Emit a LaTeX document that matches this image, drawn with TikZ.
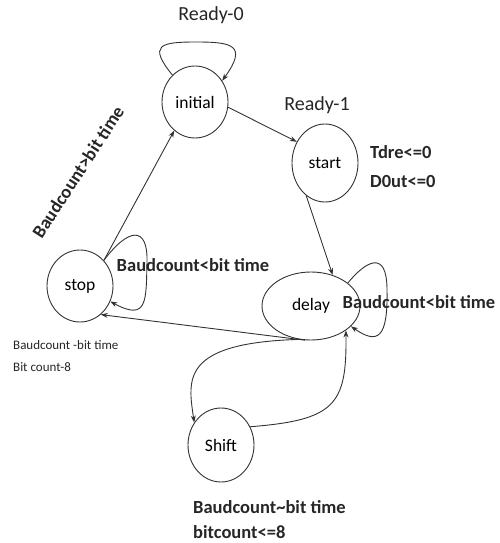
\documentclass[tikz,border=0pt]{standalone}
\usepackage{fontspec}
\setmainfont{Carlito}
\usetikzlibrary{shapes.geometric,arrows.meta}
\begin{document}
\begin{tikzpicture}[x=1pt,y=-1pt,
  state/.style={ellipse,draw=black!80,line width=0.9pt,inner sep=0pt,font=\fontsize{17.5}{17.5}\selectfont},
  edge/.style={draw=black!80,line width=0.9pt,-{Stealth[length=7pt,width=5pt]}},
  lbl/.style={font=\fontsize{20}{20}\selectfont,inner sep=0pt,text=black!85},
  slbl/.style={font=\fontsize{13}{13}\selectfont,inner sep=0pt,text=black!85,anchor=west},
  blbl/.style={font=\bfseries\fontsize{18.5}{24}\selectfont,inner sep=0pt,text=black!85}]
\useasboundingbox (0,0) rectangle (499,543);

% states
\node[state,minimum width=66pt,minimum height=72pt] (initial) at (195,102) {initial};
\node[state,minimum width=66pt,minimum height=78pt] (start) at (325,163) {start};
\node[state,minimum width=66pt,minimum height=72pt] (stop) at (80,286) {stop};
\node[state,minimum width=98pt,minimum height=68pt] (delay) at (311,306) {delay};
\node[state,minimum width=66pt,minimum height=74pt] (shift) at (221,445) {Shift};

% transitions
\draw[edge] (initial.130) .. controls (148,45) and (160,42) .. (196,42)
            .. controls (232,42) and (248,45) .. (initial.38);
\draw[edge] (initial.-9) -- (start.143);
\draw[edge] (start.240) -- (delay.55);
\draw[edge] (stop.47) -- (initial.234);
\draw[edge] (stop.47) .. controls (128,228) and (148,225) .. (147,262)
            .. controls (146,300) and (148,322) .. (stop.-27);
\draw[edge] (delay.32) .. controls (365,262) and (387,248) .. (387,290)
            .. controls (388,338) and (378,345) .. (delay.-27);
\draw[edge] (delay.-100) -- (stop.-54);
\draw[edge] (delay.-110) .. controls (180,343) and (188,380) .. (shift.140);
\draw[edge] (shift.32) .. controls (335,420) and (347,405) .. (delay.-35);

% labels
\node[lbl] (r0) at (211,15) {Ready-0};
\node[lbl] (r1) at (317,105) {Ready-1};
\node[blbl,anchor=west] (tdre) at (370,152) {Tdre<=0};
\node[blbl,anchor=west] (dout) at (370,181) {D0ut<=0};
\node[blbl,rotate=57] (bgt) at (78,172) {Baudcount>bit time};
\node[blbl] (blt1) at (193,265) {Baudcount<bit time};
\node[blbl] (blt2) at (419,302) {Baudcount<bit time};
\node[slbl] (beq) at (13,345) {Baudcount -bit time};
\node[slbl] (bc8) at (13,367) {Bit count-8};
\node[blbl,anchor=west] (bshift) at (193,507) {Baudcount\textasciitilde bit time};
\node[blbl,anchor=west] (bc) at (193,532) {bitcount<=8};
\end{tikzpicture}
\end{document}
